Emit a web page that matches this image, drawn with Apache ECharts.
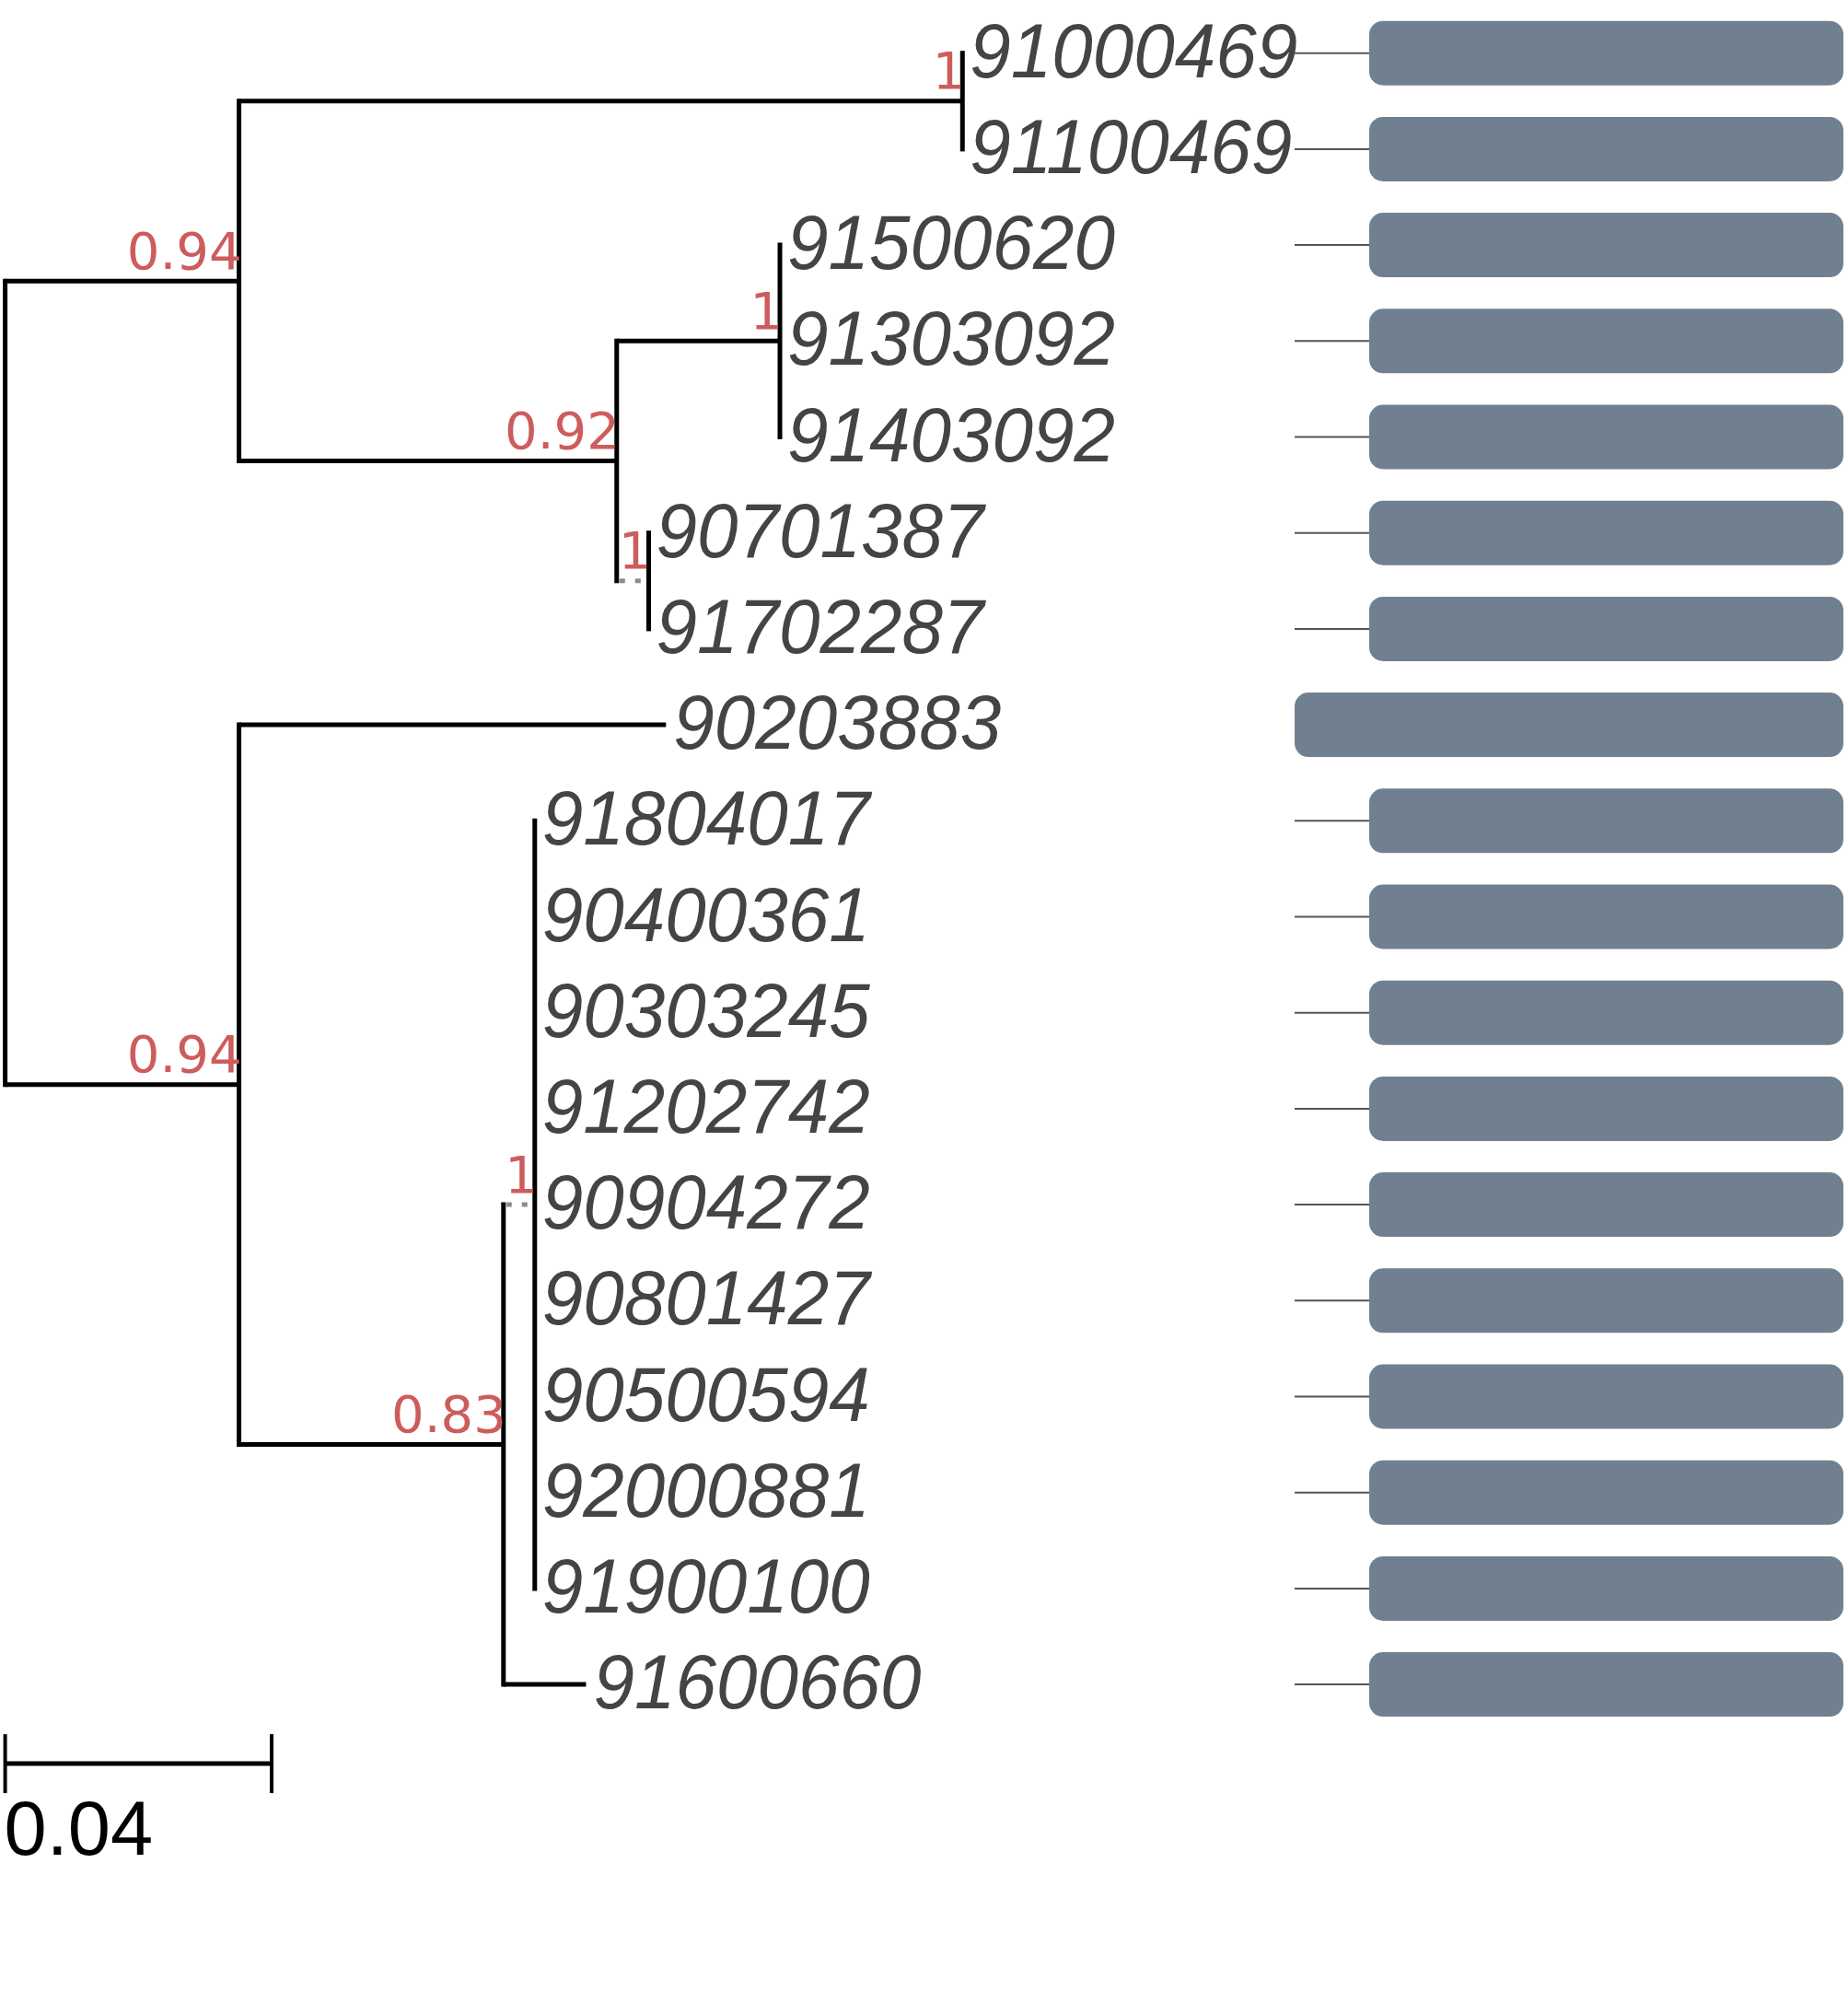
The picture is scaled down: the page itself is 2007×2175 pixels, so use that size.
<!DOCTYPE html>
<html><head><meta charset="utf-8">
<script src="https://cdn.jsdelivr.net/npm/echarts/dist/echarts.min.js"></script>
<style>html,body{margin:0;padding:0;background:#fff}#c{width:2007px;height:2175px}</style>
</head><body><div id="c"></div>
<script>
// ---- data ----
const leafNames = ['91000469','91100469','91500620','91303092','91403092','90701387','91702287','90203883',
  '91804017','90400361','90303245','91202742','90904272','90801427','90500594','92000881','91900100','91600660'];
const leafParent = [3,3,5,5,5,6,6,2,8,8,8,8,8,8,8,8,8,7];
const leafBranchLength = [0,0,0,0,0,0,0,0.0641,0,0,0,0,0,0,0,0,0,0.0124];
// internal nodes: 0 root, 1/2 main clades, 3..8 sub-clades
const nodeParent = [-1,0,0,1,1,4,4,2,7];
const nodeBranchLength = [0,0.0351,0.0351,0.1086,0.0567,0.0245,0.0048,0.0397,0.0047];
const nodeSupport = ['','0.94','0.94','1','0.92','1','1','0.83','1'];
const nodeDotted = [false,false,false,false,false,false,true,false,true];
const scaleBarLength = 0.04;
const scaleBarLabel = '0.04';
// sequence/motif track per leaf (arbitrary position units)
const seqLength = [596,596,596,596,596,596,596,596,596,596,596,596,596,596,596,596,596,596];
const motifStart = [81,81,81,81,81,81,81,0,81,81,81,81,81,81,81,81,81,81];
const motifEnd = [596,596,596,596,596,596,596,596,596,596,596,596,596,596,596,596,596,596];

// ---- tree layout (in data units) ----
const nInt = nodeParent.length, nLeaf = leafNames.length, N = nInt + nLeaf;
const par = nodeParent.concat(leafParent);
const blen = nodeBranchLength.concat(leafBranchLength);
const X = new Array(N).fill(0), Y = new Array(N).fill(0);
const children = Array.from({length: N}, () => []);
for (let i = 0; i < N; i++) if (par[i] >= 0) children[par[i]].push(i);
for (let i = 0; i < N; i++) { if (par[i] >= 0) X[i] = X[par[i]] + blen[i]; } // parents precede children
const yMin = new Array(N), yMax = new Array(N);
function setY(i) {
  if (i >= nInt) { Y[i] = i - nInt; return Y[i]; }
  const ys = children[i].map(setY);
  yMin[i] = Math.min(...ys); yMax[i] = Math.max(...ys);
  Y[i] = (yMin[i] + yMax[i]) / 2; return Y[i];
}
setY(0);
const treeData = [];
for (let i = 0; i < N; i++) treeData.push([X[i], Y[i], par[i] >= 0 ? X[par[i]] : X[i], i]);
const trackData = leafNames.map((n, j) => [0, motifStart[j], motifEnd[j], j, seqLength[j]]);

const LW = 5;
function renderTree(params, api) {
  const i = api.value(3);
  const p = api.coord([api.value(0), api.value(1)]);
  const pp = api.coord([api.value(2), api.value(1)]);
  const kids = [];
  if (par[i] >= 0 && blen[i] > 0) {
    if (i < nInt && nodeDotted[i]) {
      kids.push({type: 'line', shape: {x1: pp[0] + 3, y1: p[1], x2: p[0], y2: p[1]},
        style: {stroke: '#8c8c8c', lineWidth: LW, lineDash: [6, 11]}});
    } else {
      kids.push({type: 'line', shape: {x1: pp[0], y1: p[1], x2: p[0], y2: p[1]},
        style: {stroke: '#000', lineWidth: LW}});
    }
  }
  if (i < nInt) {
    const a = api.coord([api.value(0), yMin[i]]), b = api.coord([api.value(0), yMax[i]]);
    kids.push({type: 'line', shape: {x1: p[0], y1: a[1] - LW / 2, x2: p[0], y2: b[1] + LW / 2},
      style: {stroke: '#000', lineWidth: LW}});
    if (nodeSupport[i]) {
      kids.push({type: 'text', style: {text: nodeSupport[i], x: p[0] + 3, y: p[1] - 28,
        align: 'right', verticalAlign: 'middle', fill: '#cd5c5c',
        font: '56px "DejaVu Sans"'}});
    }
  } else {
    const tx = p[0] + 8, ty = p[1] + 3;
    kids.push({type: 'text', x: tx, y: ty, scaleY: 1.04,
      style: {text: leafNames[i - nInt], x: 0, y: 0,
      align: 'left', verticalAlign: 'middle', fill: '#444444',
      font: 'italic 80px "Liberation Sans"'}});
  }
  if (i === 0) {
    // scale bar below the last leaf
    const s0 = api.coord([0, nLeaf - 1]), s1 = api.coord([scaleBarLength, nLeaf - 1]);
    const yb = s0[1] + 86;
    kids.push({type: 'line', shape: {x1: s0[0], y1: yb, x2: s1[0], y2: yb}, style: {stroke: '#000', lineWidth: LW}});
    kids.push({type: 'line', shape: {x1: s0[0], y1: yb - 32, x2: s0[0], y2: yb + 32}, style: {stroke: '#000', lineWidth: 4}});
    kids.push({type: 'line', shape: {x1: s1[0], y1: yb - 32, x2: s1[0], y2: yb + 32}, style: {stroke: '#000', lineWidth: 4}});
    kids.push({type: 'text', style: {text: scaleBarLabel, x: s0[0] - 1, y: yb + 76, align: 'left',
      verticalAlign: 'middle', fill: '#000', font: '83px "Liberation Sans"'}});
  }
  return {type: 'group', children: kids};
}
function renderTrack(params, api) {
  const row = api.value(3);
  const a = api.coord([api.value(0), row]);
  const s = api.coord([api.value(1), row]);
  const e = api.coord([api.value(2), row]);
  const kids = [];
  if (s[0] > a[0]) kids.push({type: 'line', shape: {x1: a[0], y1: a[1], x2: s[0], y2: s[1]},
    style: {stroke: '#555555', lineWidth: 2}});
  kids.push({type: 'rect', shape: {x: s[0], y: s[1] - 35, width: e[0] - s[0], height: 70, r: 15},
    style: {fill: '#708090'}});
  return {type: 'group', children: kids};
}

const rowsTop = 57.7, rowStep = 104.2;
const chart = echarts.init(document.getElementById('c'), null, {renderer: 'canvas'});
chart.setOption({
  animation: false,
  backgroundColor: '#fff',
  grid: [
    {left: 5.6, top: rowsTop, width: 7235 * 0.2, height: rowStep * (nLeaf - 1), containLabel: false},
    {left: 1406, top: rowsTop, width: 596, height: rowStep * (nLeaf - 1), containLabel: false}
  ],
  xAxis: [
    {type: 'value', gridIndex: 0, min: 0, max: 0.2, show: false},
    {type: 'value', gridIndex: 1, min: 0, max: 596, show: false}
  ],
  yAxis: [
    {type: 'value', gridIndex: 0, min: 0, max: nLeaf - 1, inverse: true, show: false},
    {type: 'value', gridIndex: 1, min: 0, max: nLeaf - 1, inverse: true, show: false}
  ],
  series: [
    {type: 'custom', xAxisIndex: 0, yAxisIndex: 0, clip: false, renderItem: renderTree,
      data: treeData, encode: {x: 0, y: 1}, silent: true},
    {type: 'custom', xAxisIndex: 1, yAxisIndex: 1, clip: false, renderItem: renderTrack,
      data: trackData, encode: {x: [1, 2], y: 3}, silent: true}
  ]
});
</script></body></html>
